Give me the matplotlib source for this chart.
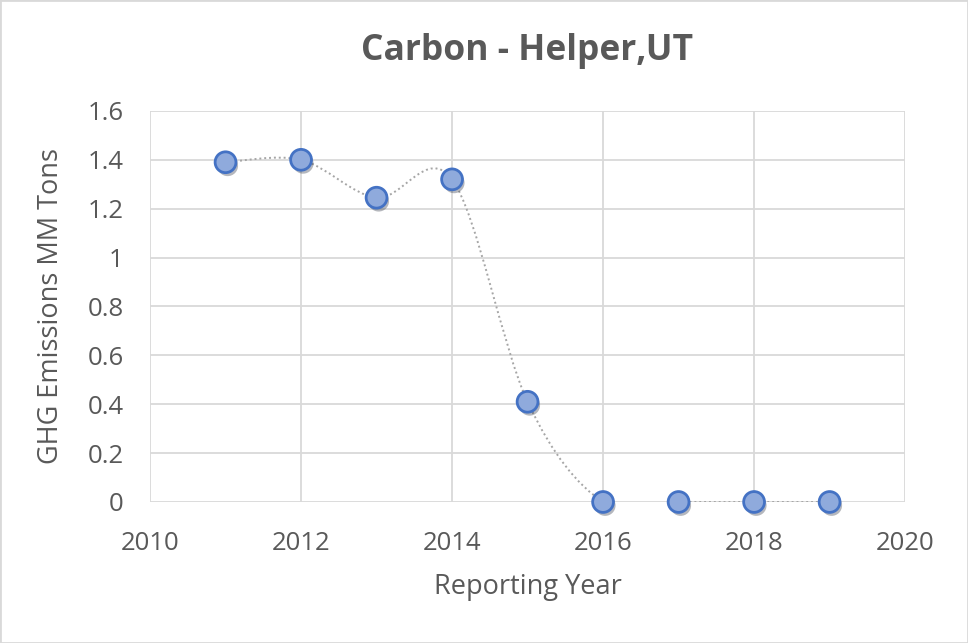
from matplotlib import pyplot as plt
from matplotlib.path import Path
from matplotlib.patches import PathPatch, Rectangle
import matplotlib.patheffects as pe
import numpy as np

years = [2011, 2012, 2013, 2014, 2015, 2016, 2017, 2018, 2019]
emissions = [1.39, 1.40, 1.245, 1.32, 0.41, 0.0, 0.0, 0.0, 0.0]
title = "Carbon - Helper,UT"
x_label = "Reporting Year"
y_label = "GHG Emissions MM Tons"
x_ticks = [2010, 2012, 2014, 2016, 2018, 2020]
y_ticks = [0, 0.2, 0.4, 0.6, 0.8, 1, 1.2, 1.4, 1.6]
y_tick_labels = ["0", "0.2", "0.4", "0.6", "0.8", "1", "1.2", "1.4", "1.6"]

font_color = "#595959"
grid_color = "#D9D9D9"
plt.rcParams["font.family"] = ["Open Sans", "DejaVu Sans"]


def smooth_path(xs, ys):
    # Excel-like smoothed line: cubic bezier, control points from neighbours / 6
    pts = np.column_stack([xs, ys]).astype(float)
    n = len(pts)
    verts = [pts[0]]
    codes = [Path.MOVETO]
    for i in range(n - 1):
        p_prev = pts[i - 1] if i > 0 else pts[i]
        p_next2 = pts[i + 2] if i + 2 < n else pts[i + 1]
        c1 = pts[i] + (pts[i + 1] - p_prev) / 6
        c2 = pts[i + 1] - (p_next2 - pts[i]) / 6
        verts += [c1, c2, pts[i + 1]]
        codes += [Path.CURVE4] * 3
    return Path(verts, codes)


fig = plt.figure(figsize=(9.68, 6.43), dpi=100)
ax = fig.add_axes([0.155, 0.2193, 0.78, 0.6082])

ax.set_xlim(2010, 2020)
ax.set_ylim(0, 1.6)
ax.set_xticks(x_ticks)
ax.set_yticks(y_ticks, y_tick_labels)
ax.grid(True, color=grid_color, linewidth=1.3)
ax.set_axisbelow(True)
for s in ax.spines.values():
    s.set_visible(False)
ax.tick_params(length=0, labelsize=18.5, labelcolor=font_color)
ax.tick_params(axis="x", pad=21)
ax.tick_params(axis="y", pad=19)

line = PathPatch(smooth_path(years, emissions), fill=False,
                 edgecolor="#A6A6A6", linewidth=1.4, linestyle=(0, (1, 1.5)))
ax.add_patch(line)

ax.plot(years, emissions, "o", ms=15, mfc="#8FAADC", mec="#4472C4", mew=2,
        clip_on=False, zorder=5,
        path_effects=[pe.SimplePatchShadow(offset=(1.5, -2.5), alpha=0.35),
                      pe.Normal()])

ax.set_title(title, fontsize=25.5, fontweight="bold", color=font_color, pad=37)
ax.set_xlabel(x_label, fontsize=19.5, color=font_color, labelpad=12)
ax.set_ylabel(y_label, fontsize=19.5, color=font_color, labelpad=16)

fig.patches.append(Rectangle((0, 0), 1, 1, transform=fig.transFigure,
                             fill=False, edgecolor="#D9D9D9", linewidth=2))

fig.savefig("out.png", dpi=100)
